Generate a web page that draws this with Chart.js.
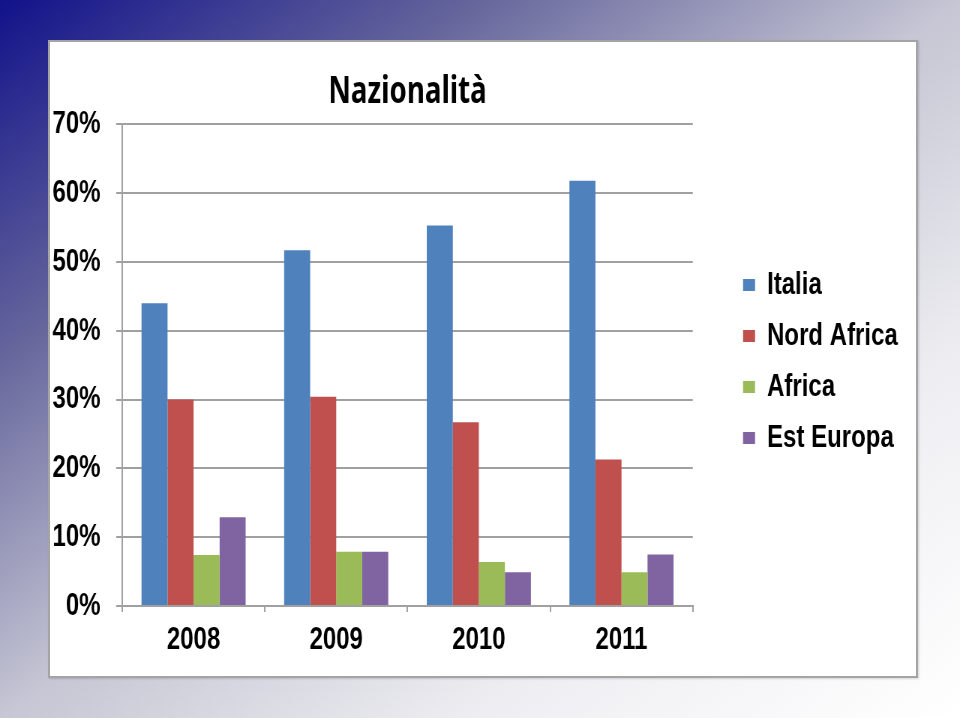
<!DOCTYPE html>
<html>
<head>
<meta charset="utf-8">
<script src="https://cdn.jsdelivr.net/npm/chart.js@4/dist/chart.umd.min.js"></script>
<style>
    html, body {
        margin: 0;
        padding: 0;
        width: 960px;
        height: 718px;
        overflow: hidden;
    }
    body {
        position: relative;
        background: linear-gradient(to bottom right, #12128a 0%, #66669c 25%, #c6c6d4 50%, #eeeef2 75%, #ffffff 100%);
    }
    .panel {
        position: absolute;
        left: 48px;
        top: 40px;
        width: 866px;
        height: 634px;
        background: #fff;
        border: 2px solid #a4a4a4;
        box-shadow: 1px 1px 2px rgba(0, 0, 0, 0.15);
    }
    /* the chart is drawn 1/0.75 wider and squeezed back: tall narrow lettering like the original */
    .chart-box {
        position: absolute;
        left: 48px;
        top: 40px;
        width: 1160px;
        height: 638px;
        transform: scaleX(0.75);
        transform-origin: 0 0;
    }
</style>
</head>
<body>
<div class="panel"></div>
<div class="chart-box"><canvas id="nazChart"></canvas></div>
<script>
// Dati (percentuali)
const years = ['2008', '2009', '2010', '2011'];
const italia = [44.0, 51.7, 55.3, 61.8];
const nordAfrica = [30.0, 30.4, 26.7, 21.3];
const africa = [7.4, 7.9, 6.4, 4.9];
const estEuropa = [12.9, 7.9, 4.9, 7.5];
const yTicks = [0, 10, 20, 30, 40, 50, 60, 70];

const labelFont = "'Liberation Sans', Arial, sans-serif";
const titleFont = "'Noto Sans', 'Open Sans', sans-serif";
const gridGray = '#a0a0a0';

const ctx = document.getElementById('nazChart');
new Chart(ctx, {
    type: 'bar',
    data: {
        labels: years,
        datasets: [
            { label: 'Italia', data: italia, backgroundColor: '#4F81BD' },
            { label: 'Nord Africa', data: nordAfrica, backgroundColor: '#C0504D' },
            { label: 'Africa', data: africa, backgroundColor: '#9BBB59' },
            { label: 'Est Europa', data: estEuropa, backgroundColor: '#8064A2' }
        ]
    },
    options: {
        responsive: true,
        maintainAspectRatio: false,
        animation: false,
        datasets: {
            bar: {
                categoryPercentage: 0.73,
                barPercentage: 1.0
            }
        },
        layout: {
            padding: { top: 25, bottom: 20, left: 2, right: 17 }
        },
        plugins: {
            title: {
                display: true,
                text: 'Nazionalità',
                fullSize: false,
                color: '#000',
                font: { family: titleFont, size: 37, weight: 'bold' },
                padding: { top: 5, bottom: 10 }
            },
            legend: {
                position: 'right',
                align: 'center',
                maxWidth: 300,
                labels: {
                    color: '#000',
                    boxWidth: 16,
                    boxHeight: 12,
                    padding: 19,
                    font: { family: labelFont, size: 32, weight: 'bold' }
                }
            },
            tooltip: { enabled: false }
        },
        scales: {
            x: {
                grid: {
                    display: true,
                    drawOnChartArea: false,
                    drawTicks: true,
                    tickLength: 6,
                    color: gridGray,
                    lineWidth: 2
                },
                border: { color: gridGray, width: 2 },
                ticks: {
                    color: '#000',
                    padding: 9,
                    font: { family: labelFont, size: 32, weight: 'bold' }
                },
                afterFit: (scale) => {
                    scale.height = 52;
                }
            },
            y: {
                min: 0,
                max: 70,
                afterBuildTicks: (scale) => {
                    scale.ticks = yTicks.map(v => ({ value: v }));
                },
                grid: {
                    color: gridGray,
                    lineWidth: 2,
                    tickLength: 8
                },
                border: { color: gridGray, width: 2 },
                ticks: {
                    color: '#000',
                    padding: 21,
                    font: { family: labelFont, size: 32, weight: 'bold' },
                    callback: (v) => v + '%'
                },
                afterFit: (scale) => {
                    scale.width = 97;
                }
            },
            // spazio vuoto tra area del grafico e legenda
            gap: {
                type: 'linear',
                position: 'right',
                display: true,
                grid: { display: false },
                border: { display: false },
                ticks: { display: false },
                afterFit: (scale) => {
                    scale.width = 48;
                }
            }
        }
    }
});
</script>
</body>
</html>
